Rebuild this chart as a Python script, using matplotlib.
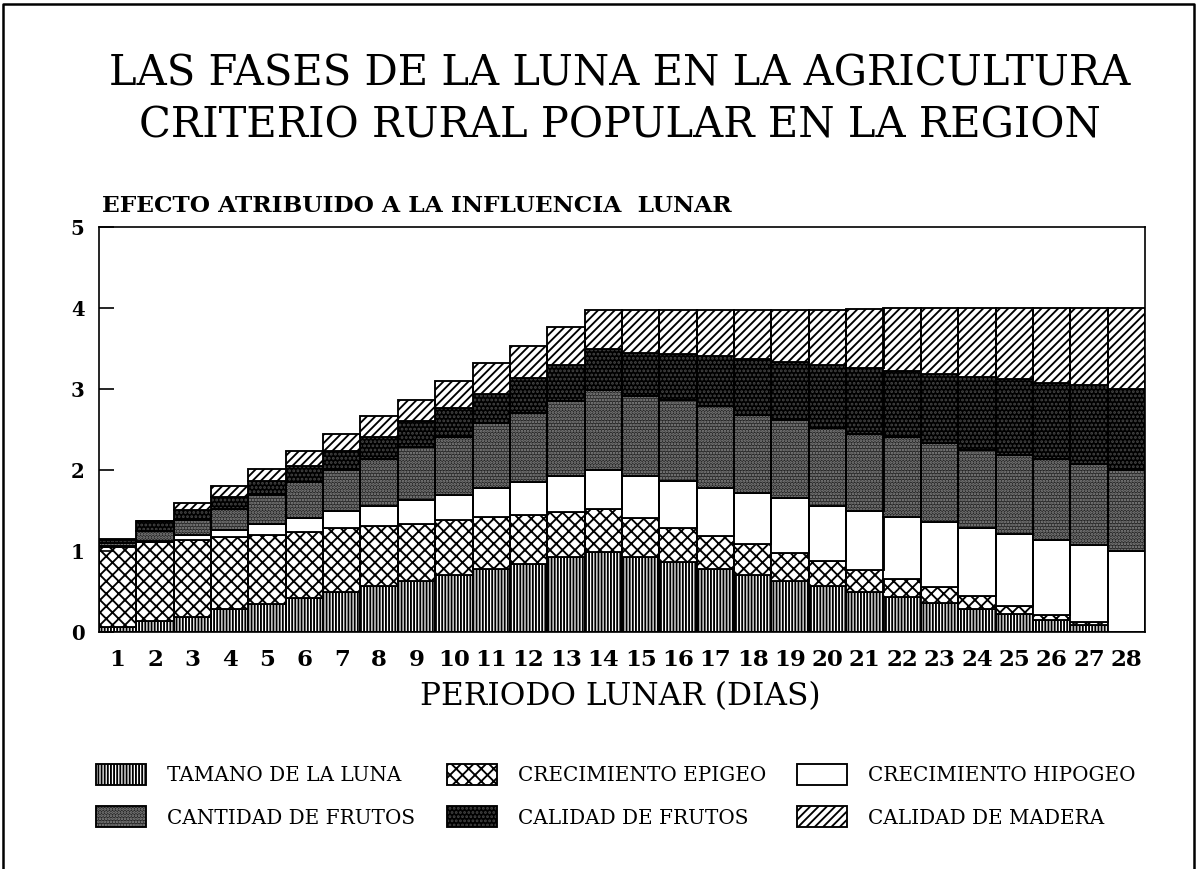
import numpy as np
import matplotlib
matplotlib.use("Agg")
import matplotlib.pyplot as plt
from matplotlib.patches import Patch
from matplotlib.lines import Line2D

# dias del periodo lunar
dias = list(range(1, 29))

# valores (altura de cada segmento)
tamano_luna = [0.06, 0.13, 0.19, 0.28, 0.35, 0.42, 0.49, 0.57, 0.63, 0.70, 0.78, 0.84, 0.92, 0.99,
               0.93, 0.86, 0.78, 0.70, 0.63, 0.57, 0.49, 0.43, 0.36, 0.28, 0.22, 0.15, 0.09, 0.00]
crec_epigeo = [0.99, 0.98, 0.95, 0.89, 0.85, 0.82, 0.79, 0.74, 0.70, 0.68, 0.64, 0.61, 0.56, 0.53,
               0.48, 0.43, 0.41, 0.39, 0.35, 0.31, 0.27, 0.22, 0.19, 0.16, 0.10, 0.06, 0.03, 0.00]
crec_hipogeo = [0.01, 0.01, 0.06, 0.09, 0.13, 0.17, 0.21, 0.24, 0.30, 0.31, 0.36, 0.40, 0.44, 0.48,
                0.51, 0.58, 0.59, 0.62, 0.67, 0.68, 0.74, 0.77, 0.81, 0.85, 0.89, 0.93, 0.95, 1.00]
cant_frutos = [0.04, 0.13, 0.18, 0.26, 0.36, 0.44, 0.51, 0.59, 0.66, 0.72, 0.80, 0.85, 0.93, 0.99,
               0.99, 1.00, 1.01, 0.97, 0.97, 0.96, 0.95, 0.99, 0.97, 0.96, 0.98, 0.99, 1.00, 1.00]
cal_frutos = [0.04, 0.12, 0.13, 0.15, 0.18, 0.20, 0.23, 0.27, 0.31, 0.36, 0.36, 0.43, 0.45, 0.50,
              0.54, 0.56, 0.62, 0.69, 0.71, 0.78, 0.81, 0.81, 0.85, 0.90, 0.93, 0.95, 0.98, 1.00]
cal_madera = [0.01, 0.00, 0.08, 0.13, 0.14, 0.18, 0.22, 0.26, 0.27, 0.33, 0.38, 0.40, 0.46, 0.48,
              0.52, 0.55, 0.57, 0.61, 0.65, 0.68, 0.73, 0.78, 0.82, 0.85, 0.88, 0.92, 0.95, 1.00]

etiquetas = ["TAMANO DE LA LUNA", "CRECIMIENTO EPIGEO", "CRECIMIENTO HIPOGEO",
             "CANTIDAD DE FRUTOS", "CALIDAD DE FRUTOS", "CALIDAD DE MADERA"]

# relleno, color de trama, trama
estilos = [
    ("white", "black", "|" * 8),
    ("white", "black", "xxxx"),
    ("white", "black", None),
    ("#262626", "#8c8c8c", "." * 8),
    ("#000000", "#454545", "." * 6),
    ("white", "black", "/" * 6),
]

W, H, DPI = 1197, 869, 150
plt.rcParams["font.family"] = "DejaVu Serif"
plt.rcParams["hatch.linewidth"] = 0.9

fig = plt.figure(figsize=(W / DPI, H / DPI), dpi=DPI)
ax = fig.add_axes([99 / W, 1 - 632 / H, (1145 - 99) / W, (632 - 227) / H])

series = [tamano_luna, crec_epigeo, crec_hipogeo, cant_frutos, cal_frutos, cal_madera]
base = np.zeros(len(dias))
handles = []
for vals, (face, hcol, hatch) in zip(series, estilos):
    ax.bar(dias, vals, width=1.0, bottom=base, color=face, edgecolor=hcol,
           hatch=hatch, linewidth=0)
    ax.bar(dias, vals, width=1.0, bottom=base, fill=False, edgecolor="black", linewidth=0.9)
    base += np.array(vals)
    handles.append((Patch(facecolor=face, edgecolor=hcol, hatch=hatch, linewidth=0),
                    Patch(fill=False, edgecolor="black", linewidth=0.9)))

ax.set_xlim(0.5, 28.5)
ax.set_ylim(0, 5)
ax.set_xticks(dias)
ax.set_yticks(range(6))
ax.tick_params(axis="x", length=0, pad=8, labelsize=11)
ax.tick_params(axis="y", direction="in", length=7, width=0.8, pad=7, labelsize=9.5)
for lab in ax.get_xticklabels() + ax.get_yticklabels():
    lab.set_fontweight("bold")
for sp in ax.spines.values():
    sp.set_linewidth(0.8)

# titulos
fig.text(620 / W, 1 - 86 / H, "LAS FASES DE LA LUNA EN LA AGRICULTURA",
         ha="center", va="baseline", fontsize=20)
fig.text(620 / W, 1 - 137 / H, "CRITERIO RURAL POPULAR EN LA REGION",
         ha="center", va="baseline", fontsize=20)
fig.text(102 / W, 1 - 212 / H, "EFECTO ATRIBUIDO A LA INFLUENCIA  LUNAR",
         ha="left", va="baseline", fontsize=11.2, fontweight="bold")
fig.text(620 / W, 1 - 705 / H, "PERIODO LUNAR (DIAS)",
         ha="center", va="baseline", fontsize=15)

# leyenda en tres columnas
for col, x0 in enumerate([96, 447, 797]):
    idx = [col, col + 3]
    fig.legend([handles[i] for i in idx], [etiquetas[i] for i in idx],
               loc="upper left", bbox_to_anchor=(x0 / W, 1 - 764 / H),
               frameon=False, borderpad=0, borderaxespad=0,
               handlelength=2.5, handleheight=1.25, handletextpad=1.05,
               labelspacing=1.05, prop={"size": 9.6})

# marco de la hoja
fig.add_artist(Line2D([3 / W, 3 / W, 1194 / W, 1194 / W], [0, 1 - 4 / H, 1 - 4 / H, 0],
                      transform=fig.transFigure, color="black", linewidth=1.2))

fig.savefig("out.png", dpi=DPI)
